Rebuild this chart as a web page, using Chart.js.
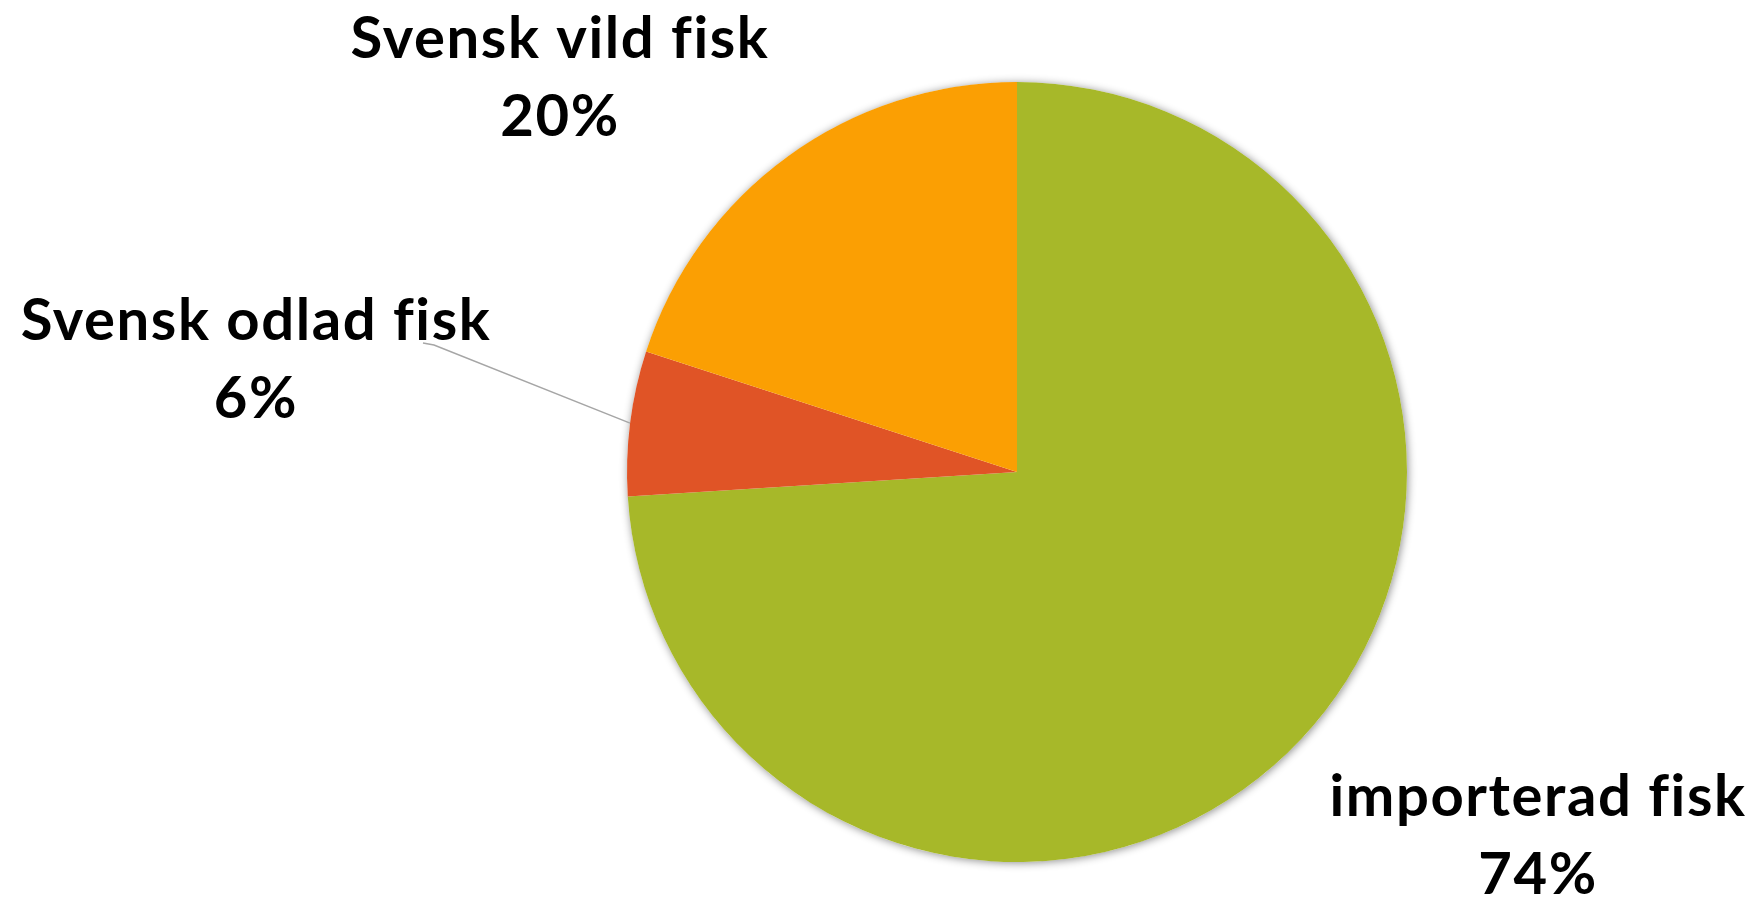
<!DOCTYPE html>
<html>
<head>
<meta charset="utf-8">
<script src="https://cdn.jsdelivr.net/npm/chart.js@4.4.1/dist/chart.umd.min.js"></script>
<style>
  html, body { margin: 0; padding: 0; background: #ffffff; }
  #wrap { width: 1759px; height: 906px; position: relative; }
</style>
</head>
<body>
<div id="wrap"><canvas id="c" width="1759" height="906"></canvas></div>
<script>
const categories = ["importerad fisk", "Svensk odlad fisk", "Svensk vild fisk"];
const shares = [74, 6, 20];
const sliceColors = ["#A7B829", "#E05426", "#FB9F03"];

// label anchor positions (layout only): centre x, first baseline y
const labelPos = [
  { x: 1537, y: 816 },
  { x: 255, y: 340 },
  { x: 559, y: 58 }
];
const lineGap = 78;
const labelFont = "bold 58px Lato, 'Open Sans', sans-serif";

const shadowPlugin = {
  id: 'pieShadow',
  beforeDatasetsDraw(chart) {
    const arc = chart.getDatasetMeta(0).data[0];
    if (!arc) return;
    const ctx = chart.ctx;
    ctx.save();
    ctx.shadowColor = 'rgba(0,0,0,0.45)';
    ctx.shadowBlur = 9;
    ctx.shadowOffsetX = 1;
    ctx.shadowOffsetY = 1;
    ctx.beginPath();
    ctx.arc(arc.x, arc.y, arc.outerRadius, 0, Math.PI * 2);
    ctx.fillStyle = '#ffffff';
    ctx.fill();
    ctx.restore();
  }
};

const labelPlugin = {
  id: 'sliceLabels',
  afterDatasetsDraw(chart) {
    const ctx = chart.ctx;
    const meta = chart.getDatasetMeta(0);
    ctx.save();
    // leader line for small slice
    const a = meta.data[1];
    const mid = (a.startAngle + a.endAngle) / 2;
    const ex = a.x + Math.cos(mid) * a.outerRadius;
    const ey = a.y + Math.sin(mid) * a.outerRadius;
    ctx.strokeStyle = '#a6a6a6';
    ctx.lineWidth = 1.5;
    ctx.beginPath();
    ctx.moveTo(423, 343);
    ctx.lineTo(434, 345);
    ctx.lineTo(ex, ey);
    ctx.stroke();

    ctx.fillStyle = '#000000';
    ctx.font = labelFont;
    ctx.letterSpacing = '1.6px';
    ctx.textAlign = 'center';
    ctx.textBaseline = 'alphabetic';
    categories.forEach((c, i) => {
      const p = labelPos[i];
      ctx.fillText(c, p.x + 1, p.y);
      ctx.fillText(shares[i] + '%', p.x + 1, p.y + lineGap);
    });
    ctx.restore();
  }
};

new Chart(document.getElementById('c'), {
  type: 'pie',
  data: {
    labels: categories,
    datasets: [{
      data: shares,
      backgroundColor: sliceColors,
      borderWidth: 0
    }]
  },
  options: {
    responsive: false,
    animation: false,
    layout: { padding: { top: 82, bottom: 44, left: 627, right: 352 } },
    plugins: {
      legend: { display: false },
      tooltip: { enabled: false }
    }
  },
  plugins: [shadowPlugin, labelPlugin]
});
</script>
</body>
</html>
